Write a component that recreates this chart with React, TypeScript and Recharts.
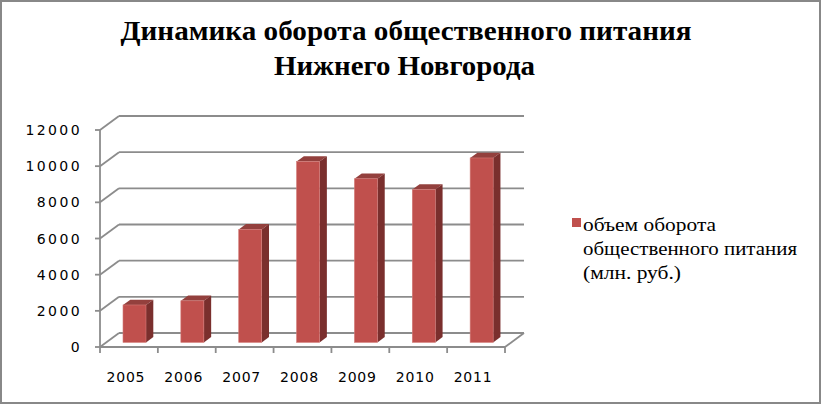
import { BarChart, Bar, XAxis, YAxis, CartesianGrid, Legend } from "recharts";

const years = ["2005", "2006", "2007", "2008", "2009", "2010", "2011"];
const turnover = [2070, 2300, 6250, 10000, 9050, 8450, 10200];
const yTicks = [0, 2000, 4000, 6000, 8000, 10000, 12000];
const seriesName = "объем оборота общественного питания (млн. руб.)";
const legendLines = ["объем оборота", "общественного питания", "(млн. руб.)"];
const titleLines = ["Динамика оборота общественного питания", "Нижнего Новгорода"];

const data = years.map((year, i) => ({ year, value: turnover[i] }));

// depth of the 3d box (back wall offset) and of the bars
const DX = 19;
const DY = -14;
const GRID = "#8C8C8C";
const AXIS_FONT = "'DejaVu Sans', sans-serif";

const gridLine = (props: any) => {
	const { x1, y1, x2 } = props;
	return (
		<g key={props.key}>
			<line x1={x1} y1={y1} x2={x1 + DX} y2={y1 + DY} stroke={GRID} strokeWidth={1.8} />
			<line x1={x1 + DX} y1={y1 + DY} x2={x2 + DX} y2={y1 + DY} stroke={GRID} strokeWidth={1.8} />
		</g>
	);
};

const Bar3D = (props: any) => {
	const { x, y, width, height } = props;
	if (height == null || height <= 0) return null;
	const fx = x + 6;
	const fy = y - 4.6;
	const dx = 7.3;
	const dy = -5.3;
	return (
		<g>
			<polygon
				points={`${fx},${fy} ${fx + dx},${fy + dy} ${fx + width + dx},${fy + dy} ${fx + width},${fy}`}
				fill="#93403D"
			/>
			<polygon
				points={`${fx + width},${fy} ${fx + width + dx},${fy + dy} ${fx + width + dx},${fy + height + dy} ${fx + width},${fy + height}`}
				fill="#7A2F2D"
			/>
			<rect x={fx} y={fy} width={width} height={height} fill="#C0504D" stroke="#D27B78" strokeWidth={0.6} />
		</g>
	);
};

const XTick = (props: any) => {
	const { x, y, payload, index } = props;
	const half = payload && payload.offset ? payload.offset : 28.93;
	const last = index === years.length - 1;
	return (
		<g>
			<line x1={x - half} y1={y} x2={x - half} y2={y + 6} stroke={GRID} strokeWidth={1.8} />
			{last && (
				<>
					<line x1={x + half} y1={y} x2={x + half} y2={y + 6} stroke={GRID} strokeWidth={1.8} />
					<line x1={x + half} y1={y} x2={x + half + DX} y2={y + DY} stroke={GRID} strokeWidth={1.8} />
				</>
			)}
			<text
				x={x - 3}
				y={y + 35}
				textAnchor="middle"
				fill="#000"
				style={{ fontSize: 14, fontFamily: AXIS_FONT, letterSpacing: 0.8 }}
			>
				{payload.value}
			</text>
		</g>
	);
};

const YTick = (props: any) => {
	const { x, y, payload } = props;
	return (
		<text
			x={x + 2}
			y={y + 5}
			textAnchor="end"
			fill="#000"
			style={{ fontSize: 14, fontFamily: AXIS_FONT, letterSpacing: 2.4 }}
		>
			{payload.value}
		</text>
	);
};

const legendLengths = [133, 214, 98];

const renderLegend = (props: any) => {
	const color = props.payload && props.payload[0] ? props.payload[0].color : "#C0504D";
	return (
		<svg width={240} height={80} style={{ display: "block" }}>
			<rect x={6} y={8} width={9} height={9} fill={color} />
			{legendLines.map((line, i) => (
				<text
					key={line}
					x={17}
					y={21 + i * 24}
					textLength={legendLengths[i]}
					lengthAdjust="spacingAndGlyphs"
					style={{ fontSize: 18, fontFamily: "'Liberation Serif', serif", fill: "#000" }}
				>
					{line}
				</text>
			))}
		</svg>
	);
};

export default function App() {
	return (
		<div style={{ position: "absolute", left: 0, top: 0, width: 821, height: 404, background: "#fff" }}>
			<BarChart
				width={821}
				height={404}
				data={data}
				margin={{ top: 130, right: 76, left: 40, bottom: 27 }}
			>
				<CartesianGrid horizontal={gridLine} vertical={false} />
				<XAxis
					dataKey="year"
					interval={0}
					height={30}
					tickLine={false}
					tickSize={0}
					tickMargin={0}
					axisLine={{ stroke: GRID, strokeWidth: 1.8 }}
					tick={<XTick />}
				/>
				<YAxis
					type="number"
					domain={[0, 12000]}
					ticks={yTicks}
					interval={0}
					width={60}
					tickSize={5}
					tickMargin={15}
					axisLine={{ stroke: GRID, strokeWidth: 1.8 }}
					tickLine={{ stroke: GRID, strokeWidth: 1.8 }}
					tick={<YTick />}
				/>
				<Legend
					layout="vertical"
					align="right"
					verticalAlign="middle"
					content={renderLegend}
					wrapperStyle={{ position: "absolute", left: 566, top: 210, width: 240, height: 80 }}
				/>
				<Bar
					dataKey="value"
					name={seriesName}
					fill="#C0504D"
					barSize={23}
					shape={<Bar3D />}
					isAnimationActive={false}
				/>
				<rect x={1} y={1} width={819} height={402} fill="none" stroke="#888888" strokeWidth={2} />
				<text
					x={406}
					y={39.5}
					textAnchor="middle"
					textLength={571}
					lengthAdjust="spacingAndGlyphs"
					style={{ fontSize: 27, fontWeight: "bold", fontFamily: "'Liberation Serif', serif", fill: "#000" }}
				>
					{titleLines[0]}
				</text>
				<text
					x={404.5}
					y={75}
					textAnchor="middle"
					textLength={261}
					lengthAdjust="spacingAndGlyphs"
					style={{ fontSize: 27, fontWeight: "bold", fontFamily: "'Liberation Serif', serif", fill: "#000" }}
				>
					{titleLines[1]}
				</text>
			</BarChart>
		</div>
	);
}
